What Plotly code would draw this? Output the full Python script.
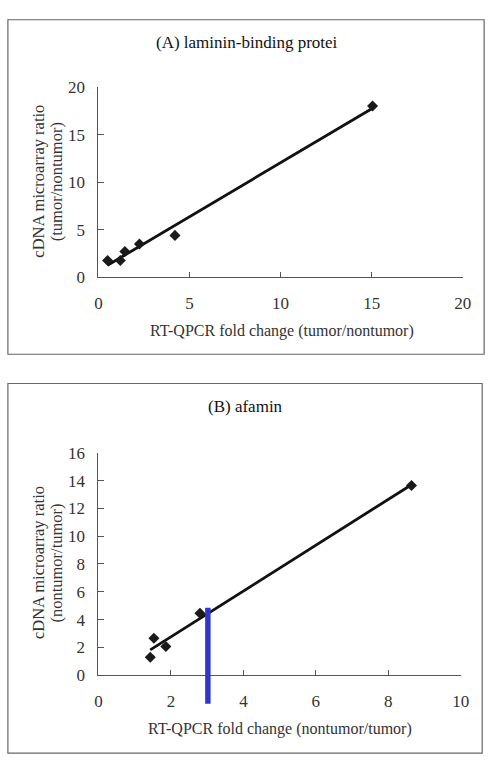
import numpy as np
import plotly.graph_objects as go

# ---- data ----
a_x = [0.5, 1.2, 1.45, 2.25, 4.2, 15.05]
a_y = [1.75, 1.75, 2.7, 3.5, 4.4, 18.0]
b_x = [1.43, 1.53, 1.86, 2.8, 8.64]
b_y = [1.29, 2.65, 2.06, 4.45, 13.65]

a_title = "(A) laminin-binding protei"
b_title = "(B) afamin"
a_xtitle = "RT-QPCR fold change (tumor/nontumor)"
b_xtitle = "RT-QPCR fold change (nontumor/tumor)"
a_ytitle = ["cDNA microarray ratio", "(tumor/nontumor)"]
b_ytitle = ["cDNA microarray ratio", "(nontumor/tumor)"]

a_xticks = [0, 5, 10, 15, 20]
a_yticks = [0, 5, 10, 15, 20]
b_xticks = [0, 2, 4, 6, 8, 10]
b_yticks = [0, 2, 4, 6, 8, 10, 12, 14, 16]

# blue highlight bar in panel B (data units)
bar_x = 3.02
bar_top = 4.85
bar_bottom = -2.05

FONT = "Liberation Serif"
TXT = "#333333"

fig = go.Figure()

def add_panel(xs, ys, xa, ya):
    k, c = np.polyfit(xs, ys, 1)
    lx = np.array([min(xs), max(xs)])
    fig.add_trace(go.Scatter(x=lx, y=k * lx + c, mode="lines",
                             line=dict(color="#111111", width=2.8),
                             xaxis=xa, yaxis=ya, showlegend=False, hoverinfo="skip"))
    fig.add_trace(go.Scatter(x=xs, y=ys, mode="markers",
                             marker=dict(symbol="diamond", size=8.5, color="#1a1a1a"),
                             xaxis=xa, yaxis=ya, showlegend=False, cliponaxis=False))

add_panel(a_x, a_y, "x", "y")
add_panel(b_x, b_y, "x2", "y2")

W, H = 498, 770

def px(v):
    return v / W

def py(v):
    return (H - v) / H

xcommon = dict(showgrid=False, zeroline=False, showline=True, linecolor="#555555", linewidth=1,
               ticks="inside", ticklen=5, tickcolor="#555555", tickwidth=1,
               tickfont=dict(family=FONT, size=17, color=TXT), ticklabelstandoff=10)
ycommon = dict(showgrid=False, zeroline=False, showline=True, linecolor="#555555", linewidth=1,
               ticks="inside", ticklen=6, tickcolor="#555555", tickwidth=1,
               tickfont=dict(family=FONT, size=17, color=TXT), ticklabelstandoff=9)

fig.update_layout(
    width=W, height=H, margin=dict(l=0, r=0, t=0, b=0),
    paper_bgcolor="white", plot_bgcolor="white", showlegend=False,
    xaxis=dict(domain=[px(97), px(471)], range=[0, 20], tickvals=a_xticks, anchor="y", **xcommon),
    yaxis=dict(domain=[py(275), py(80)], range=[0, 20], tickvals=a_yticks, anchor="x", **ycommon),
    xaxis2=dict(domain=[px(97), px(469)], range=[0, 10], tickvals=b_xticks, anchor="y2", **xcommon),
    yaxis2=dict(domain=[py(683), py(455)], range=[0, 16], tickvals=b_yticks, anchor="x2", **ycommon),
)

shapes = [
    dict(type="rect", xref="paper", yref="paper", x0=px(4), x1=px(493), y0=py(354), y1=py(11),
         line=dict(color="#666666", width=1.2), fillcolor="rgba(0,0,0,0)"),
    dict(type="rect", xref="paper", yref="paper", x0=px(4), x1=px(491), y0=py(763), y1=py(384),
         line=dict(color="#666666", width=1.2), fillcolor="rgba(0,0,0,0)"),
    dict(type="rect", xref="x2", yref="y2 domain", x0=bar_x - 0.075, x1=bar_x + 0.075,
         y0=bar_bottom / 16, y1=bar_top / 16, line=dict(width=0), fillcolor="#3434c8", layer="above"),
]
fig.update_layout(shapes=shapes)

ann = []
def text(t, x, y, size=16, color=TXT, angle=0):
    ann.append(dict(text=t, xref="paper", yref="paper", x=px(x), y=py(y), showarrow=False,
                    xanchor="center", yanchor="middle", textangle=angle,
                    font=dict(family=FONT, size=size, color=color)))

text(a_title, 249, 34, size=17, color="#111111")
text(a_xtitle, 285, 330)
text(a_ytitle[0], 36, 177, size=16.5, angle=-90)
text(a_ytitle[1], 54, 177, size=16.5, angle=-90)
text(b_title, 248, 408, size=17, color="#111111")
text(b_xtitle, 283, 738)
text(b_ytitle[0], 36, 568, size=16.5, angle=-90)
text(b_ytitle[1], 54, 568, size=16.5, angle=-90)
fig.update_layout(annotations=ann)

fig.write_html("out.html")
